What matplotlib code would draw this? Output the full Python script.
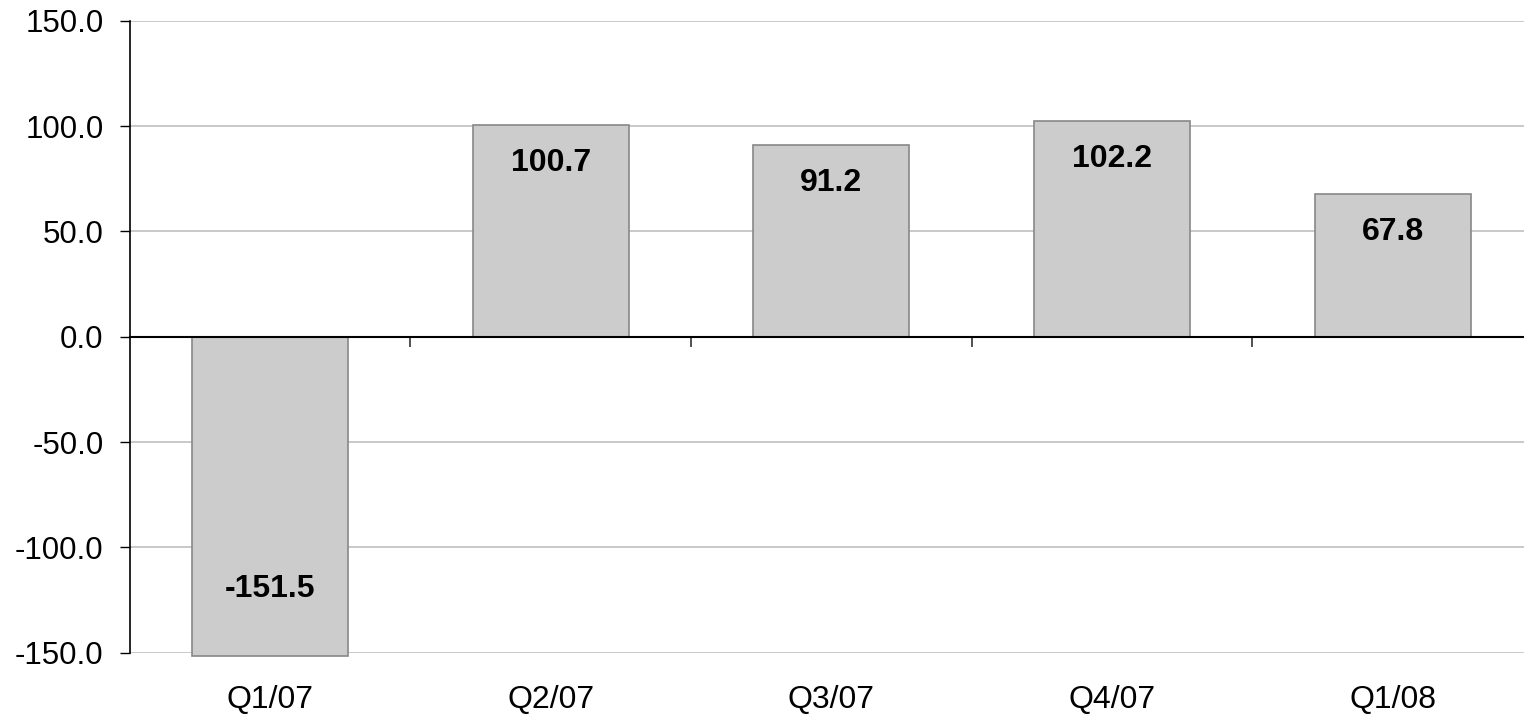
import matplotlib
matplotlib.use("Agg")
import matplotlib.pyplot as plt
import matplotlib.transforms as mtransforms

categories = ["Q1/07", "Q2/07", "Q3/07", "Q4/07", "Q1/08"]
values = [-151.5, 100.7, 91.2, 102.2, 67.8]
yticks = [-150, -100, -50, 0, 50, 100, 150]

plt.rcParams['font.family'] = ['Liberation Sans', 'DejaVu Sans']

fig = plt.figure(figsize=(15.24, 7.17), dpi=100)
ax = fig.add_axes([0.0851, 0.0897, 0.9207, 0.8814])

x = list(range(len(categories)))
bars = ax.bar(x, values, width=0.556, color="#cccccc", edgecolor="#888888",
              linewidth=1.2, zorder=3, clip_on=False)

ax.set_xlim(-0.5, len(categories) - 0.5)
ax.set_ylim(-150, 150)
ax.set_yticks(yticks)
ax.set_yticklabels([f"{v:.1f}" for v in yticks], fontsize=22.5)
ax.yaxis.grid(True, color="#c0c0c0", linewidth=1.2, zorder=0)
ax.set_axisbelow(True)
ax.tick_params(axis="y", direction="out", length=7.2, width=1, pad=11.5, color="black")

for s in ["top", "right"]:
    ax.spines[s].set_visible(False)
ax.spines["left"].set_color("black")
ax.spines["left"].set_linewidth(1.2)
ax.spines["bottom"].set_position(("data", 0))
ax.spines["bottom"].set_color("black")
ax.spines["bottom"].set_linewidth(1.5)
ax.spines["bottom"].set_zorder(4)

ax.set_xticks([i + 0.5 for i in x[:-1]])
ax.set_xticklabels([])
ax.tick_params(axis="x", direction="out", length=7.2, width=1.2, color="#333333")

trans = mtransforms.blended_transform_factory(ax.transData, ax.transAxes)
for i, c in enumerate(categories):
    ax.annotate(c, xy=(i, 0), xycoords=trans, xytext=(0, -34), textcoords="offset points",
                ha="center", va="center", fontsize=23, annotation_clip=False)

for i, v in enumerate(values):
    off = -27.4 if v >= 0 else 48
    ax.annotate(f"{v:.1f}", xy=(i, v), xytext=(0, off), textcoords="offset points",
                ha="center", va="center", fontsize=23, fontweight="bold", zorder=5,
                annotation_clip=False)

fig.savefig("out.png", dpi=100)
